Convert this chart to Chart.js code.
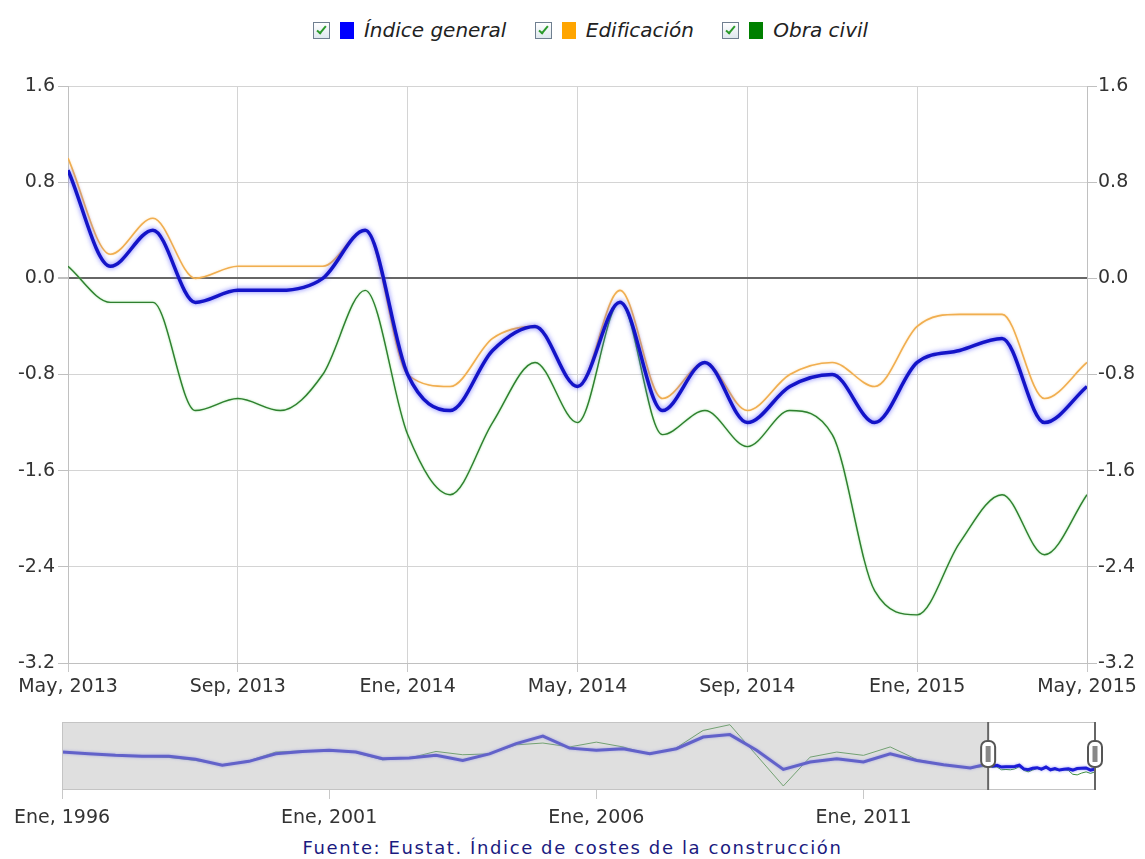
<!DOCTYPE html>
<html lang="es">
<head>
<meta charset="utf-8">
<title>Índice de costes de la construcción</title>
<script src="https://cdn.jsdelivr.net/npm/chart.js@4.4.1/dist/chart.umd.min.js"></script>
<style>
  body { margin: 0; background: #fff; width: 1145px; height: 859px; position: relative; overflow: hidden;
         font-family: "DejaVu Sans", Verdana, sans-serif; }
  #leyenda { position: absolute; top: 18px; left: 18px; width: 1145px; text-align: center;
             font-style: italic; font-size: 20px; color: #222; line-height: 24px; }
  .item { display: inline-flex; align-items: center; margin: 0 11px; }
  .check { width: 15px; height: 15px; border: 1px solid #6f7f90; background: linear-gradient(#fff, #dfe8ee);
           position: relative; margin-right: 10px; }
  .check::after { content: ""; position: absolute; left: 5px; top: 1px; width: 3px; height: 8px;
                  border: solid #2a9a2a; border-width: 0 2px 2px 0; transform: rotate(40deg); }
  .sq { width: 14px; height: 17px; margin-right: 10px; }
  #principal { position: absolute; left: 0; top: 0; }
  #navegador { position: absolute; left: 0; top: 700px; }
  #fuente { position: absolute; top: 837px; left: 0; width: 1145px; text-align: center;
            font-size: 18px; letter-spacing: 1.6px; color: #1a1a80; }
</style>
</head>
<body>

<div id="leyenda">
  <span class="item"><span class="check"></span><span class="sq" style="background:#0000ff"></span>Índice general</span>
  <span class="item"><span class="check"></span><span class="sq" style="background:#ffa500"></span>Edificación</span>
  <span class="item"><span class="check"></span><span class="sq" style="background:#008000"></span>Obra civil</span>
</div>

<canvas id="principal" width="1145" height="700"></canvas>
<canvas id="navegador" width="1145" height="130"></canvas>
<div id="fuente">Fuente: Eustat. Índice de costes de la construcción</div>

<script>
// ================== Datos (variación %, mayo 2013 - mayo 2015) ==================

const meses = [
  "May 2013", "Jun 2013", "Jul 2013", "Ago 2013", "Sep 2013", "Oct 2013", "Nov 2013", "Dic 2013",
  "Ene 2014", "Feb 2014", "Mar 2014", "Abr 2014", "May 2014", "Jun 2014", "Jul 2014", "Ago 2014",
  "Sep 2014", "Oct 2014", "Nov 2014", "Dic 2014", "Ene 2015", "Feb 2015", "Mar 2015", "Abr 2015", "May 2015"
];

const indiceGeneral = [0.9, 0.1, 0.4, -0.2, -0.1, -0.1, 0.0, 0.4, -0.8, -1.1, -0.6, -0.4, -0.9,
                       -0.2, -1.1, -0.7, -1.2, -0.9, -0.8, -1.2, -0.7, -0.6, -0.5, -1.2, -0.9];
const edificacion   = [1.0, 0.2, 0.5, 0.0, 0.1, 0.1, 0.1, 0.4, -0.8, -0.9, -0.5, -0.4, -0.9,
                       -0.1, -1.0, -0.7, -1.1, -0.8, -0.7, -0.9, -0.4, -0.3, -0.3, -1.0, -0.7];
const obraCivil     = [0.1, -0.2, -0.2, -1.1, -1.0, -1.1, -0.8, -0.1, -1.3, -1.8, -1.2, -0.7, -1.2,
                       -0.2, -1.3, -1.1, -1.4, -1.1, -1.3, -2.6, -2.8, -2.2, -1.8, -2.3, -1.8];

const etiquetasX = ["May, 2013", "Sep, 2013", "Ene, 2014", "May, 2014", "Sep, 2014", "Ene, 2015", "May, 2015"];
const ticksY = [-3.2, -2.4, -1.6, -0.8, 0.0, 0.8, 1.6];

const navFechas = [1996.0, 1996.5, 1997.0, 1997.5, 1998.0, 1998.5, 1999.0, 1999.5, 2000.0, 2000.5,
                   2001.0, 2001.5, 2002.0, 2002.5, 2003.0, 2003.5, 2004.0, 2004.5, 2005.0, 2005.5,
                   2006.0, 2006.5, 2007.0, 2007.5, 2008.0, 2008.5, 2009.0, 2009.5, 2010.0, 2010.5,
                   2011.0, 2011.5, 2012.0, 2012.5, 2013.0];
const navGeneral = [4.8, 4.2, 3.7, 3.4, 3.4, 2.4, 0.4, 1.7, 4.2, 5.0,
                    5.4, 4.8, 2.6, 2.8, 3.7, 2.0, 4.2, 7.6, 10.1, 6.1,
                    5.4, 5.9, 4.2, 5.9, 9.8, 10.6, 5.4, -1.0, 1.5, 2.6,
                    1.5, 4.2, 2.0, 0.6, -0.5];
const navObra    = [4.8, 4.2, 3.7, 3.4, 3.0, 2.0, 0.6, 1.9, 4.8, 5.2,
                    5.4, 4.6, 2.2, 2.8, 5.0, 3.9, 4.2, 7.2, 7.8, 6.5,
                    8.1, 6.5, 4.0, 6.2, 12.0, 13.9, 3.7, -6.5, 3.1, 4.8,
                    3.7, 6.5, 2.3, 0.6, -0.5];
const etiquetasNav = ["Ene, 1996", "Ene, 2001", "Ene, 2006", "Ene, 2011"];
const ticksNav = [1996, 2001, 2006, 2011];

const inicioSeleccion = 2013 + 4 / 12;   // mayo 2013
const finSeleccion = 2015 + 4 / 12;      // mayo 2015

// ================== Utilidades ==================

const FUENTE = '"DejaVu Sans", Verdana, sans-serif';

function serie(valores) {
  return valores.map((v, i) => ({ x: i, y: v }));
}

function serieNav(historico, recientes) {
  const pts = historico.map((v, i) => ({ x: navFechas[i], y: v }));
  recientes.forEach((v, i) => pts.push({ x: inicioSeleccion + i / 12, y: v }));
  return pts;
}

// sombra / brillo de las líneas
const brillo = {
  id: "brillo",
  beforeDatasetDraw(chart, args) {
    const ds = chart.data.datasets[args.index];
    chart.ctx.save();
    if (ds.brillo) {
      chart.ctx.shadowColor = ds.brillo;
      chart.ctx.shadowBlur = ds.blur;
    }
  },
  afterDatasetDraw(chart) {
    chart.ctx.restore();
  },
};

// ================== Gráfico principal ==================

new Chart(document.getElementById("principal"), {
  type: "line",
  data: {
    datasets: [
      { label: "Índice general", data: serie(indiceGeneral), borderColor: "#1414c8", borderWidth: 3.5,
        brillo: "rgba(90,90,255,0.85)", blur: 5 },
      { label: "Edificación", data: serie(edificacion), borderColor: "#f0ae50", borderWidth: 1.6,
        brillo: "rgba(255,210,140,0.7)", blur: 2 },
      { label: "Obra civil", data: serie(obraCivil), borderColor: "#2f7f2f", borderWidth: 1.4,
        brillo: "rgba(130,220,130,0.8)", blur: 2 },
    ],
  },
  options: {
    responsive: false,
    animation: false,
    events: [],
    layout: { padding: { top: 86, left: 0, right: 0, bottom: 0 } },
    elements: { point: { radius: 0 }, line: { cubicInterpolationMode: "monotone", fill: false } },
    plugins: { legend: { display: false }, tooltip: { enabled: false } },
    scales: {
      x: {
        type: "linear",
        min: 0,
        max: meses.length - 1,
        afterBuildTicks: (s) => { s.ticks = etiquetasX.map((_, i) => ({ value: i * 4 })); },
        afterFit: (s) => { s.height = 37; },
        grid: { color: "#d4d4d4", tickLength: 9, tickColor: "#c8c8c8" },
        border: { color: "#c0c0c0" },
        ticks: {
          callback: (v, i) => etiquetasX[i],
          color: "#333",
          font: { family: FUENTE, size: 19 },
          maxRotation: 0,
          autoSkip: false,
          padding: 4,
        },
      },
      y: {
        position: "left",
        min: ticksY[0],
        max: ticksY[ticksY.length - 1],
        afterBuildTicks: (s) => { s.ticks = ticksY.map((v) => ({ value: v })); },
        afterFit: (s) => { s.width = 68; },
        grid: {
          color: (c) => (c.tick && c.tick.value === 0 ? "#666" : "#d4d4d4"),
          lineWidth: (c) => (c.tick && c.tick.value === 0 ? 2 : 1),
          tickLength: 10,
          tickColor: "#c0c0c0",
        },
        border: { color: "#c0c0c0" },
        ticks: {
          callback: (v) => v.toFixed(1),
          color: "#333",
          font: { family: FUENTE, size: 19 },
          padding: 3,
        },
      },
      y2: {
        position: "right",
        min: ticksY[0],
        max: ticksY[ticksY.length - 1],
        afterBuildTicks: (s) => { s.ticks = ticksY.map((v) => ({ value: v })); },
        afterFit: (s) => { s.width = 58; },
        grid: { drawOnChartArea: false, tickLength: 10, tickColor: "#c0c0c0" },
        border: { color: "#c0c0c0" },
        ticks: {
          callback: (v) => v.toFixed(1),
          color: "#333",
          font: { family: FUENTE, size: 19 },
          padding: 1,
        },
      },
    },
  },
  plugins: [brillo],
});

// ================== Navegador ==================

function asa(ctx, x, yc) {
  const w = 14, h = 26, r = 6;
  ctx.beginPath();
  ctx.roundRect(x - w / 2, yc - h / 2, w, h, r);
  ctx.fillStyle = "#fff";
  ctx.fill();
  ctx.lineWidth = 2;
  ctx.strokeStyle = "#555";
  ctx.stroke();
  ctx.fillStyle = "#888";
  ctx.fillRect(x - 2.5, yc - 8, 5, 16);
}

const mascara = {
  id: "mascara",
  afterDatasetsDraw(chart) {
    const { ctx, chartArea: a, scales } = chart;
    const x0 = scales.x.getPixelForValue(inicioSeleccion);
    const x1 = scales.x.getPixelForValue(finSeleccion);
    ctx.save();
    ctx.fillStyle = "rgba(185,185,185,0.45)";
    ctx.fillRect(a.left, a.top, x0 - a.left, a.bottom - a.top);
    ctx.strokeStyle = "#c4c4c4";
    ctx.lineWidth = 1;
    ctx.strokeRect(a.left + 0.5, a.top + 0.5, a.right - a.left - 1, a.bottom - a.top);
    ctx.strokeStyle = "#666";
    ctx.lineWidth = 2;
    [x0, x1].forEach((x) => {
      ctx.beginPath();
      ctx.moveTo(x, a.top);
      ctx.lineTo(x, a.bottom + 1);
      ctx.stroke();
    });
    const yc = a.top + 32;
    asa(ctx, x0, yc);
    asa(ctx, x1, yc);
    ctx.restore();
  },
};

new Chart(document.getElementById("navegador"), {
  type: "line",
  data: {
    datasets: [
      { data: serieNav(navGeneral, indiceGeneral), borderColor: "#1c1cd8", borderWidth: 3,
        brillo: "rgba(110,110,255,0.7)", blur: 3 },
      { data: edificacion.map((v, i) => ({ x: inicioSeleccion + i / 12, y: v })), borderColor: "#f0c060",
        borderWidth: 1 },
      { data: serieNav(navObra, obraCivil), borderColor: "#3a8f3a", borderWidth: 1 },
    ],
  },
  options: {
    responsive: false,
    animation: false,
    events: [],
    layout: { padding: { top: 22, left: 62, right: 50, bottom: 0 } },
    elements: { point: { radius: 0 }, line: { tension: 0, fill: false } },
    plugins: { legend: { display: false }, tooltip: { enabled: false } },
    scales: {
      x: {
        type: "linear",
        min: navFechas[0],
        max: finSeleccion,
        afterBuildTicks: (s) => { s.ticks = ticksNav.map((v) => ({ value: v })); },
        afterFit: (s) => { s.height = 41; },
        grid: { color: "#c4c4c4", tickLength: 10, tickColor: "#c8c8c8" },
        border: { display: false },
        ticks: {
          callback: (v, i) => etiquetasNav[i],
          color: "#333",
          font: { family: FUENTE, size: 19 },
          maxRotation: 0,
          autoSkip: false,
          padding: 8,
        },
      },
      y: { display: false, min: -7.5, max: 14.8 },
    },
  },
  plugins: [
    {
      id: "fondo",
      beforeDatasetsDraw(chart) {
        const { ctx, chartArea: a } = chart;
        ctx.save();
        ctx.fillStyle = "#fff";
        ctx.fillRect(a.left, a.top, a.right - a.left, a.bottom - a.top);
        ctx.restore();
      },
    },
    brillo,
    mascara,
  ],
});
</script>
</body>
</html>
